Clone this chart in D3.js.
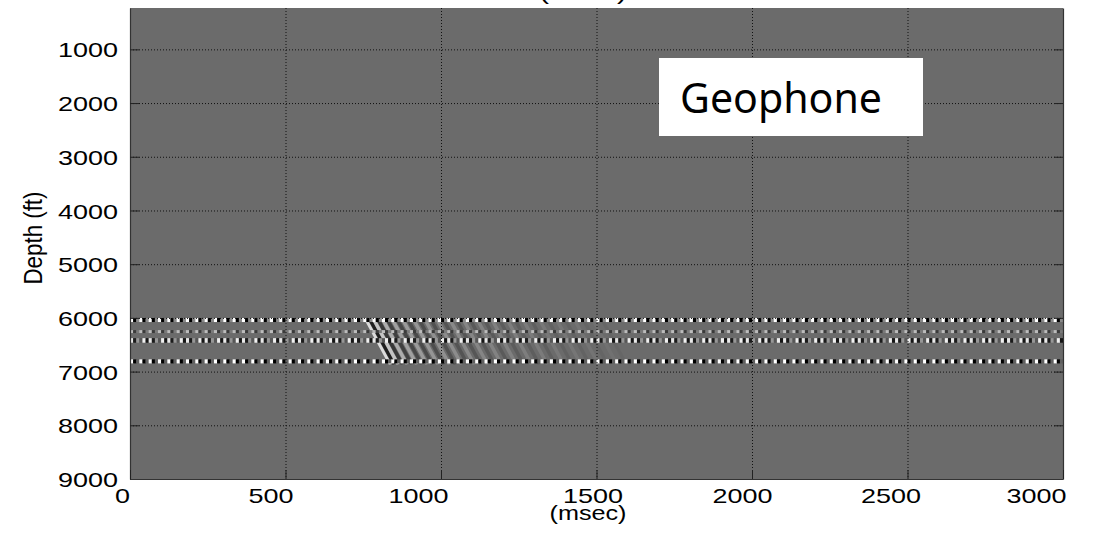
<!DOCTYPE html>
<html><head><meta charset="utf-8">
<script src="https://cdn.jsdelivr.net/npm/d3@7"></script>
<style>body{margin:0;background:#fff}</style>
</head><body>
<svg id="chart" width="1097" height="539"></svg>
<script>
// ---- data ----
const depthTicks = [1000, 2000, 3000, 4000, 5000, 6000, 7000, 8000, 9000];
const timeTicks = [0, 500, 1000, 1500, 2000, 2500, 3000];
const depthDomain = [230, 9000];
const timeDomain = [0, 3000];
const zoneDepth = [6000, 6870];           // geophone array interval (ft)
const arrivalDepth = [6000, 6870];        // first-break line end points
const arrivalTime = [757, 838];           // msec
const eventLag = [0, 11, 24, 38, 53, 68, 84, 100, 117, 134, 152, 170, 189, 208, 228, 248, 269, 290,
                  312, 334, 357, 380, 404, 428, 453, 478, 504, 530, 557, 584, 612, 640, 669, 698, 728, 758];
const eventAmp = [0.95, -0.9, 0.75, -0.6, 0.55, -0.5, 0.45, -0.42, 0.4, -0.38, 0.36, -0.34, 0.32, -0.3,
                  0.28, -0.27, 0.26, -0.24, 0.22, -0.21, 0.2, -0.19, 0.18, -0.17, 0.16, -0.15, 0.14, -0.13,
                  0.12, -0.11, 0.1, -0.09, 0.08, -0.07, 0.06, -0.05];
const traceDepth = [6040, 6255, 6420, 6810];   // noisy geophone levels (ft)
const traceSpan = [75, 55, 85, 75];            // ft covered by each level
const traceStep = 10;                          // msec per sample
const traceMotif = [
  [1, -1, 0.2],
  [0.55, -0.45, 0.1],
  [0.85, -0.75, 0.3, -0.2, 0.9, -0.8],
  [1, -1, -0.1]
];
const topTitle = "(msec)";
const xTitle = "(msec)";
const yTitle = "Depth (ft)";
const boxLabel = "Geophone";

// ---- drawing ----
const svg = d3.select("#chart");
const L = 130, R = 1063, T = 8, B = 479;
const x = d3.scaleLinear().domain(timeDomain).range([L, R]);
const y = d3.scaleLinear().domain(depthDomain).range([T, B]);
const amp = d3.scaleLinear().domain([-1, 0, 1]).range(["#000000", "#6b6b6b", "#ffffff"]).clamp(true);
const fmt = d3.format("d");

svg.append("rect").attr("width", 1097).attr("height", 539).attr("fill", "#fff");

const defs = svg.append("defs");
defs.append("clipPath").attr("id", "plotClip").append("rect")
  .attr("x", L).attr("y", T).attr("width", R - L).attr("height", B - T);
defs.append("clipPath").attr("id", "zoneClip").append("rect")
  .attr("x", L).attr("y", y(zoneDepth[0])).attr("width", R - L)
  .attr("height", y(zoneDepth[1]) - y(zoneDepth[0]));

const plot = svg.append("g").attr("clip-path", "url(#plotClip)");
plot.append("rect").attr("x", L).attr("y", T).attr("width", R - L).attr("height", B - T)
  .attr("fill", "#6b6b6b");

// wavefield events
const events = eventLag.map((lag, i) => ({ lag, a: eventAmp[i] }));
plot.append("g").attr("clip-path", "url(#zoneClip)")
  .selectAll("line").data(events).join("line")
  .attr("x1", d => x(arrivalTime[0] + d.lag)).attr("y1", y(arrivalDepth[0]))
  .attr("x2", d => x(arrivalTime[1] + d.lag)).attr("y2", y(arrivalDepth[1]))
  .attr("stroke", d => d.a > 0 ? "#fff" : "#000")
  .attr("stroke-opacity", d => Math.abs(d.a) * 0.8)
  .attr("stroke-width", 3.5);

// noisy traces
traceDepth.forEach((dep, k) => {
  const motif = traceMotif[k];
  const samples = d3.range(timeDomain[0], timeDomain[1], traceStep)
    .map((t, i) => ({ t, v: motif[i % motif.length] }));
  const y0 = y(dep - traceSpan[k] / 2), y1 = y(dep + traceSpan[k] / 2);
  plot.append("g").selectAll("rect").data(samples).join("rect")
    .attr("x", d => x(d.t)).attr("width", d => x(d.t + traceStep) - x(d.t) + 0.2)
    .attr("y", y0).attr("height", y1 - y0)
    .attr("fill", d => amp(d.v));
});

// grid
const grid = svg.append("g").attr("stroke", "#111").attr("stroke-dasharray", "1,2").attr("stroke-width", 1);
grid.selectAll(".gx").data(timeTicks.filter(t => t > timeDomain[0] && t < timeDomain[1])).join("line")
  .attr("x1", d => x(d) + 0.5).attr("x2", d => x(d) + 0.5).attr("y1", T).attr("y2", B);
grid.selectAll(".gy").data(depthTicks.filter(d => d < 9000)).join("line")
  .attr("y1", d => y(d) + 0.5).attr("y2", d => y(d) + 0.5).attr("x1", L).attr("x2", R);

// axes
const styleAxis = g => {
  g.select(".domain").attr("stroke", "#333").attr("stroke-width", 1.2);
  g.selectAll(".tick line").attr("stroke", "#222");
};
const yAxis = svg.append("g").attr("transform", `translate(${L},0)`)
  .call(d3.axisLeft(y).tickValues(depthTicks).tickFormat(fmt).tickSizeInner(-9).tickSizeOuter(0).tickPadding(12))
  .call(styleAxis);
yAxis.selectAll(".tick text")
  .attr("font-family", "Liberation Sans, Arial, sans-serif").attr("font-size", 21).attr("fill", "#000")
  .attr("dy", "0.36em")
  .attr("textLength", d => fmt(d).length * 15).attr("lengthAdjust", "spacingAndGlyphs");

svg.append("g").attr("transform", `translate(${R},0)`)
  .call(d3.axisRight(y).tickValues(depthTicks).tickSizeInner(-9).tickSizeOuter(0).tickFormat(""))
  .call(styleAxis);

const labelShift = [-8, -15, -23, -4, -10, -17, -27];
const xAxis = svg.append("g").attr("transform", `translate(0,${B})`)
  .call(d3.axisBottom(x).tickValues(timeTicks).tickFormat(fmt).tickSizeInner(-9).tickSizeOuter(0).tickPadding(10))
  .call(styleAxis);
xAxis.selectAll(".tick text")
  .attr("font-family", "Liberation Sans, Arial, sans-serif").attr("font-size", 21).attr("fill", "#000")
  .attr("y", 16).attr("dy", "0.36em")
  .attr("dx", (d, i) => labelShift[i])
  .attr("textLength", d => fmt(d).length * 15).attr("lengthAdjust", "spacingAndGlyphs");

// titles
svg.append("text").attr("x", 588).attr("y", 520)
  .attr("text-anchor", "middle").attr("font-family", "Liberation Sans, Arial, sans-serif")
  .attr("font-size", 20).attr("textLength", 77).attr("lengthAdjust", "spacingAndGlyphs").text(xTitle);
svg.append("text").attr("x", 583).attr("y", 0)
  .attr("text-anchor", "middle").attr("font-family", "Liberation Sans, Arial, sans-serif")
  .attr("font-size", 21).attr("textLength", 87).attr("lengthAdjust", "spacingAndGlyphs").text(topTitle);
svg.append("text").attr("transform", "translate(42,238) rotate(-90) scale(1,1.25)")
  .attr("text-anchor", "middle").attr("font-family", "Liberation Sans, Arial, sans-serif")
  .attr("font-size", 20).attr("textLength", 93).attr("lengthAdjust", "spacingAndGlyphs").text(yTitle);

// Geophone label box
svg.append("rect").attr("x", 659).attr("y", 58).attr("width", 264).attr("height", 78).attr("fill", "#fff");
svg.append("text").attr("x", 680).attr("y", 113)
  .attr("font-family", "Noto Sans, Open Sans, sans-serif").attr("font-size", 42)
  .attr("textLength", 202).attr("lengthAdjust", "spacingAndGlyphs").attr("fill", "#000").text(boxLabel);
</script>
</body></html>
